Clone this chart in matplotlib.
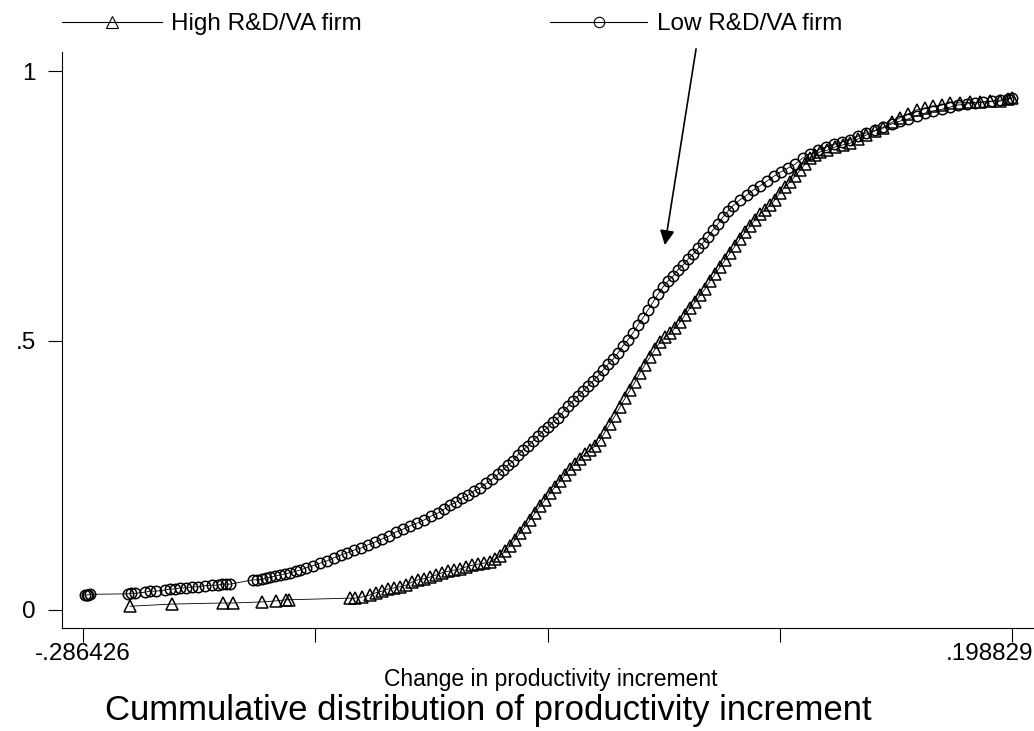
import numpy as np
import matplotlib
matplotlib.use("Agg")
import matplotlib.pyplot as plt
import matplotlib.transforms as mtransforms
from matplotlib.lines import Line2D

plt.rcParams['font.family'] = ['Liberation Sans', 'DejaVu Sans']

# Low R&D/VA firms (circles)
low_x = [-0.2854, -0.2846, -0.2838, -0.2830,
         -0.2629, -0.2614, -0.2593, -0.2541, -0.2514, -0.2483, -0.2436, -0.2410,
         -0.2384, -0.2358, -0.2326, -0.2295, -0.2263, -0.2227, -0.2190, -0.2159,
         -0.2138, -0.2117, -0.2096,
         -0.1976, -0.1955, -0.1929, -0.1908, -0.1888, -0.1861, -0.1835, -0.1809,
         -0.1783, -0.1752, -0.1731, -0.1700, -0.1663, -0.1626, -0.1590, -0.1553,
         -0.1517, -0.1485, -0.1449, -0.1412, -0.1375, -0.1339, -0.1302, -0.1266,
         -0.1229, -0.1193, -0.1156, -0.1120, -0.1083, -0.1047, -0.1010, -0.0979,
         -0.0947, -0.0916, -0.0885, -0.0853, -0.0822, -0.0791, -0.0759, -0.0728,
         -0.0696, -0.0670, -0.0644, -0.0618, -0.0592, -0.0566, -0.0540, -0.0513,
         -0.0487, -0.0461, -0.0435, -0.0409, -0.0383, -0.0357, -0.0331, -0.0305,
         -0.0279, -0.0252, -0.0226, -0.0200, -0.0174, -0.0148, -0.0122, -0.0096,
         -0.0070, -0.0044, -0.0018, 0.0008, 0.0035, 0.0061, 0.0087, 0.0113,
         0.0139, 0.0165, 0.0191, 0.0217, 0.0243, 0.0270, 0.0296, 0.0322,
         0.0348, 0.0374, 0.0400, 0.0426, 0.0452, 0.0478, 0.0505, 0.0531,
         0.0567, 0.0604, 0.0636, 0.0672, 0.0709, 0.0745, 0.0782, 0.0819,
         0.0855, 0.0897, 0.0933, 0.0975, 0.1017, 0.1059, 0.1101, 0.1142,
         0.1184, 0.1226, 0.1273, 0.1315, 0.1362, 0.1403, 0.1445, 0.1492,
         0.1534, 0.1576, 0.1623, 0.1664, 0.1706, 0.1753, 0.1795, 0.1837,
         0.1884, 0.1925, 0.1967, 0.1988]
low_y = [0.027, 0.028, 0.028, 0.029,
         0.030, 0.031, 0.031, 0.033, 0.035, 0.035, 0.037, 0.039,
         0.039, 0.041, 0.041, 0.043, 0.043, 0.045, 0.046, 0.046,
         0.048, 0.048, 0.048,
         0.056, 0.056, 0.057, 0.059, 0.061, 0.063, 0.065, 0.067,
         0.069, 0.072, 0.074, 0.078, 0.082, 0.087, 0.091, 0.097,
         0.102, 0.106, 0.111, 0.115, 0.121, 0.126, 0.132, 0.137,
         0.145, 0.150, 0.156, 0.161, 0.167, 0.174, 0.180, 0.187,
         0.195, 0.200, 0.208, 0.213, 0.221, 0.226, 0.235, 0.243,
         0.252, 0.260, 0.269, 0.276, 0.288, 0.297, 0.304, 0.314,
         0.323, 0.332, 0.339, 0.349, 0.356, 0.367, 0.378, 0.388,
         0.397, 0.406, 0.416, 0.425, 0.434, 0.445, 0.456, 0.465,
         0.477, 0.490, 0.501, 0.514, 0.529, 0.542, 0.557, 0.571,
         0.586, 0.599, 0.610, 0.619, 0.631, 0.640, 0.651, 0.660,
         0.671, 0.681, 0.692, 0.705, 0.716, 0.729, 0.740, 0.750,
         0.761, 0.770, 0.779, 0.787, 0.796, 0.805, 0.813, 0.820,
         0.827, 0.839, 0.846, 0.853, 0.859, 0.864, 0.868, 0.872,
         0.879, 0.885, 0.890, 0.896, 0.902, 0.907, 0.911, 0.917,
         0.922, 0.926, 0.929, 0.933, 0.937, 0.939, 0.941, 0.942,
         0.944, 0.946, 0.948, 0.950]

# High R&D/VA firms (triangles)
high_x = [-0.2619, -0.2399, -0.2133, -0.2081, -0.1929, -0.1856, -0.1804, -0.1788,
          -0.1470, -0.1444, -0.1407, -0.1365, -0.1334, -0.1302, -0.1271, -0.1240,
          -0.1209, -0.1177, -0.1146, -0.1115, -0.1083, -0.1052, -0.1020, -0.0989,
          -0.0958, -0.0926, -0.0895, -0.0864, -0.0832, -0.0801, -0.0770, -0.0738,
          -0.0712, -0.0686, -0.0660, -0.0634, -0.0608, -0.0582, -0.0556, -0.0530,
          -0.0503, -0.0477, -0.0451, -0.0425, -0.0399, -0.0373, -0.0347, -0.0321,
          -0.0295, -0.0268, -0.0242, -0.0216, -0.0190, -0.0164, -0.0138, -0.0112,
          -0.0086, -0.0059, -0.0033, -0.0007, 0.0019, 0.0045, 0.0071, 0.0097,
          0.0124, 0.0150, 0.0176, 0.0202, 0.0228, 0.0254, 0.0280, 0.0306,
          0.0333, 0.0359, 0.0385, 0.0411, 0.0437, 0.0463, 0.0489, 0.0515,
          0.0541, 0.0567, 0.0594, 0.0620, 0.0646, 0.0672, 0.0698, 0.0724,
          0.0750, 0.0776, 0.0802, 0.0829, 0.0855, 0.0881, 0.0907, 0.0933,
          0.0959, 0.0985, 0.1022, 0.1064, 0.1106, 0.1142, 0.1184, 0.1226,
          0.1273, 0.1315, 0.1362, 0.1403, 0.1445, 0.1492, 0.1534, 0.1576,
          0.1623, 0.1664, 0.1717, 0.1769, 0.1821, 0.1873, 0.1925, 0.1967,
          0.1988]
high_y = [0.007, 0.011, 0.013, 0.013, 0.015, 0.017, 0.019, 0.019,
          0.022, 0.022, 0.024, 0.028, 0.032, 0.035, 0.039, 0.041,
          0.043, 0.046, 0.052, 0.056, 0.058, 0.061, 0.065, 0.069,
          0.072, 0.074, 0.076, 0.080, 0.083, 0.085, 0.087, 0.089,
          0.095, 0.100, 0.109, 0.119, 0.130, 0.143, 0.154, 0.167,
          0.180, 0.193, 0.204, 0.217, 0.228, 0.239, 0.250, 0.262,
          0.271, 0.280, 0.289, 0.297, 0.304, 0.315, 0.330, 0.345,
          0.360, 0.377, 0.393, 0.408, 0.423, 0.440, 0.455, 0.469,
          0.484, 0.497, 0.506, 0.514, 0.523, 0.534, 0.547, 0.560,
          0.571, 0.584, 0.596, 0.610, 0.623, 0.636, 0.649, 0.662,
          0.675, 0.688, 0.701, 0.712, 0.724, 0.735, 0.742, 0.751,
          0.761, 0.774, 0.785, 0.794, 0.805, 0.816, 0.827, 0.839,
          0.844, 0.850, 0.853, 0.859, 0.863, 0.866, 0.874, 0.881,
          0.889, 0.894, 0.905, 0.913, 0.920, 0.928, 0.931, 0.935,
          0.937, 0.941, 0.941, 0.942, 0.942, 0.944, 0.944, 0.948,
          0.950]

x_min, x_max = -0.286426, 0.198829
x_ticks = np.linspace(x_min, x_max, 5)
x_ticklabels = ['-.286426', '', '', '', '.198829']
y_ticks = [0, 0.5, 1]
y_ticklabels = ['0', '.5', '1']

# arrow pointing at the low R&D curve
arrow_tail = (0.0338, 1.041)
arrow_head = (0.0175, 0.677)

fig = plt.figure(figsize=(10.34, 7.31), dpi=100)
ax = fig.add_axes([62/1034, 1 - 628/731, 971/1034, 576/731])

ax.plot(low_x, low_y, color='black', lw=0.6, marker='o', ms=7.5,
        mfc='none', mec='black', mew=1.1)
ax.plot(high_x, high_y, color='black', lw=0.6, marker='^', ms=8.5,
        mfc='none', mec='black', mew=1.1)

ax.set_xlim(-0.2974, 0.2098)
ax.set_ylim(-0.0334, 1.0353)
for s in ['top', 'right']:
    ax.spines[s].set_visible(False)
for s in ['left', 'bottom']:
    ax.spines[s].set_linewidth(0.8)

ax.set_xticks(x_ticks)
ax.set_xticklabels(x_ticklabels)
ax.set_yticks(y_ticks)
ax.set_yticklabels(y_ticklabels)
ax.tick_params(axis='x', direction='out', length=10, width=0.8, labelsize=17.5, pad=1)
ax.tick_params(axis='y', direction='out', length=10, width=0.8, labelsize=17.5, pad=9)

last = ax.get_xticklabels()[-1]
last.set_horizontalalignment('right')
last.set_transform(last.get_transform() +
                   mtransforms.ScaledTranslation(21/100, 0, fig.dpi_scale_trans))

ax.set_xlabel('Change in productivity increment', fontsize=16.5)
ax.xaxis.set_label_coords(0.503, -0.1007)
ax.xaxis.label.set_verticalalignment('baseline')

fig.text(488/1034, 1 - 720/731, 'Cummulative distribution of productivity increment',
         fontsize=25, ha='center', va='baseline')

ax.annotate('', xy=arrow_head, xytext=arrow_tail, annotation_clip=False,
            arrowprops=dict(arrowstyle='-|>', color='black', lw=1.2,
                            mutation_scale=22, shrinkA=0, shrinkB=0))

h_high = Line2D([], [], color='black', lw=0.8, marker='^', ms=8.5,
                mfc='none', mec='black', mew=0.8)
h_low = Line2D([], [], color='black', lw=0.8, marker='o', ms=7.5,
               mfc='none', mec='black', mew=0.8)
leg1 = fig.legend([h_high], ['High R&D/VA firm'], loc='center left',
                  bbox_to_anchor=(62/1034, 1 - 24/731), frameon=False,
                  fontsize=17.5, handlelength=4.1, handletextpad=0.4,
                  borderpad=0, borderaxespad=0, numpoints=1)
leg2 = fig.legend([h_low], ['Low R&D/VA firm'], loc='center left',
                  bbox_to_anchor=(550/1034, 1 - 24/731), frameon=False,
                  fontsize=17.5, handlelength=4.0, handletextpad=0.4,
                  borderpad=0, borderaxespad=0, numpoints=1)

fig.savefig('out.png', dpi=100)
